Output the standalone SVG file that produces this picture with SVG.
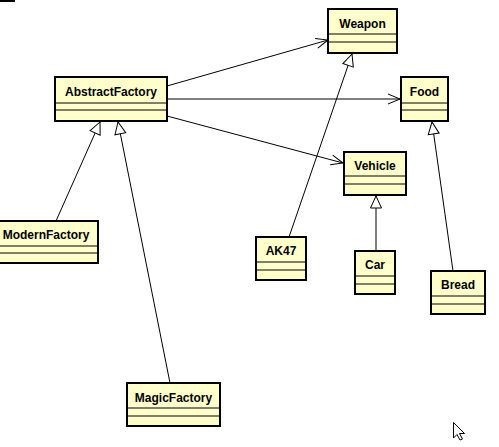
<svg xmlns="http://www.w3.org/2000/svg" width="499" height="447" viewBox="0 0 499 447">
<style>
.box{fill:#FFFFCC;stroke:#000;stroke-width:2}
.div{stroke:#000;stroke-width:1}
.lbl{font-family:"Liberation Sans",Arial,sans-serif;font-weight:bold;font-size:12px;fill:#000;text-anchor:middle}
.con{stroke:#000;stroke-width:1;fill:none}
</style>
<defs>
<marker id="open" viewBox="-14 -7 16 14" refX="0" refY="0" markerWidth="16" markerHeight="14" markerUnits="userSpaceOnUse" orient="auto">
<path d="M-12,-5 L0,0 L-12,5" fill="none" stroke="#000" stroke-width="1"/>
</marker>
<marker id="gen" viewBox="-14 -8 16 16" refX="0" refY="0" markerWidth="16" markerHeight="16" markerUnits="userSpaceOnUse" orient="auto">
<path d="M0,0 L-12,-5.5 L-12,5.5 Z" fill="#fff" stroke="#000" stroke-width="1"/>
</marker>
</defs>
<rect width="499" height="447" fill="#fff"/>
<rect x="0" y="0" width="15" height="2" fill="#000"/>
<g id="connectors">
<line class="con" x1="167" y1="86" x2="328" y2="40" marker-end="url(#open)"/>
<line class="con" x1="167" y1="99" x2="400" y2="99" marker-end="url(#open)"/>
<line class="con" x1="167" y1="116" x2="343" y2="163" marker-end="url(#open)"/>
<line class="con" x1="289" y1="237" x2="352" y2="54" marker-end="url(#gen)"/>
<line class="con" x1="376" y1="251" x2="376" y2="196" marker-end="url(#gen)"/>
<line class="con" x1="453" y1="271" x2="432" y2="122" marker-end="url(#gen)"/>
<line class="con" x1="56" y1="221" x2="100" y2="122" marker-end="url(#gen)"/>
<line class="con" x1="170" y1="383" x2="118" y2="122" marker-end="url(#gen)"/>
</g>
<g id="AbstractFactory">
<rect class="box" x="55" y="77" width="112" height="44"/>
<line class="div" x1="55" y1="103" x2="167" y2="103"/>
<line class="div" x1="55" y1="110" x2="167" y2="110"/>
<text class="lbl" x="111" y="96">AbstractFactory</text>
</g>
<g id="Weapon">
<rect class="box" x="328" y="9" width="69" height="44"/>
<line class="div" x1="328" y1="34" x2="397" y2="34"/>
<line class="div" x1="328" y1="42" x2="397" y2="42"/>
<text class="lbl" x="362.5" y="28">Weapon</text>
</g>
<g id="Food">
<rect class="box" x="401" y="77" width="47" height="44"/>
<line class="div" x1="401" y1="103" x2="448" y2="103"/>
<line class="div" x1="401" y1="110" x2="448" y2="110"/>
<text class="lbl" x="424.5" y="96">Food</text>
</g>
<g id="Vehicle">
<rect class="box" x="344" y="152" width="62" height="43"/>
<line class="div" x1="344" y1="176" x2="406" y2="176"/>
<line class="div" x1="344" y1="184" x2="406" y2="184"/>
<text class="lbl" x="375" y="170">Vehicle</text>
</g>
<g id="AK47">
<rect class="box" x="256" y="237" width="50" height="43"/>
<line class="div" x1="256" y1="262" x2="306" y2="262"/>
<line class="div" x1="256" y1="270" x2="306" y2="270"/>
<text class="lbl" x="281" y="255">AK47</text>
</g>
<g id="Car">
<rect class="box" x="355" y="251" width="40" height="43"/>
<line class="div" x1="355" y1="276" x2="395" y2="276"/>
<line class="div" x1="355" y1="284" x2="395" y2="284"/>
<text class="lbl" x="375" y="269">Car</text>
</g>
<g id="Bread">
<rect class="box" x="431" y="271" width="54" height="43"/>
<line class="div" x1="431" y1="296" x2="485" y2="296"/>
<line class="div" x1="431" y1="304" x2="485" y2="304"/>
<text class="lbl" x="458" y="289">Bread</text>
</g>
<g id="ModernFactory">
<rect class="box" x="-2" y="221" width="100" height="42"/>
<line class="div" x1="-2" y1="246" x2="98" y2="246"/>
<line class="div" x1="-2" y1="253" x2="98" y2="253"/>
<text class="lbl" x="46" y="239">ModernFactory</text>
</g>
<g id="MagicFactory">
<rect class="box" x="127" y="383" width="93" height="43"/>
<line class="div" x1="127" y1="408" x2="220" y2="408"/>
<line class="div" x1="127" y1="416" x2="220" y2="416"/>
<text class="lbl" x="173.5" y="402">MagicFactory</text>
</g>
<path d="M453.5,422.5 L453.5,438 L457,434.5 L460,440 L462.5,439 L459.5,433.5 L464.5,433.5 Z" fill="#fff" stroke="#000" stroke-width="1"/>
</svg>
